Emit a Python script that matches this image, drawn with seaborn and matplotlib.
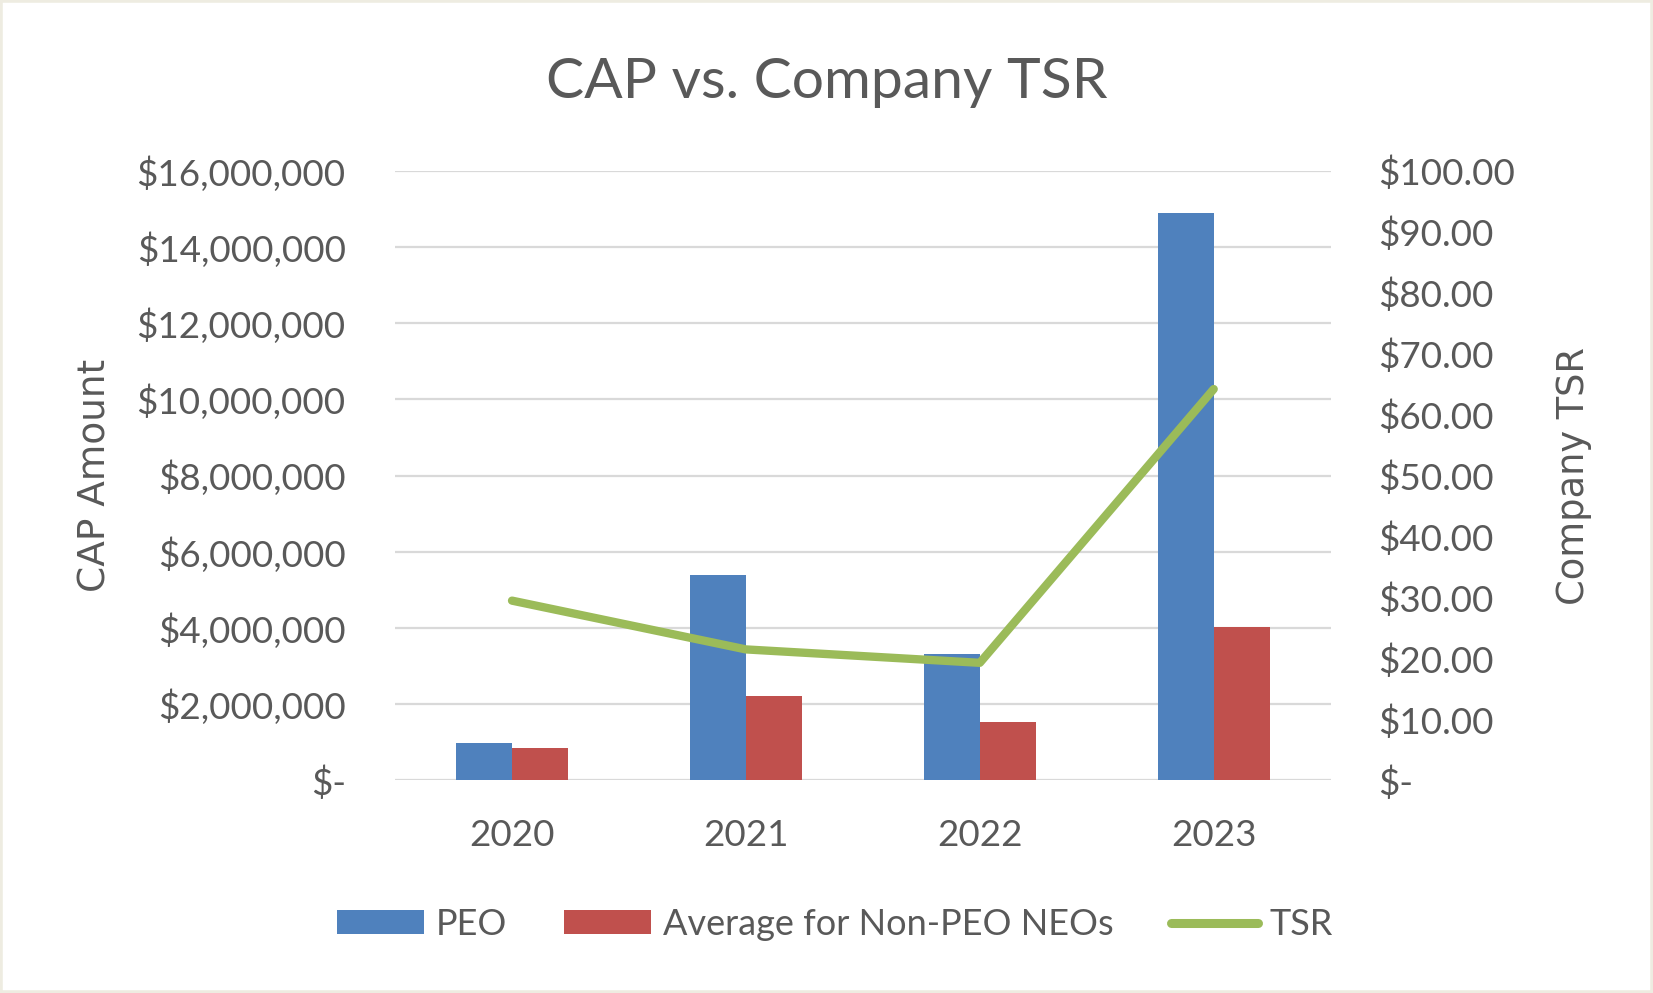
import matplotlib
matplotlib.use("Agg")
import matplotlib.pyplot as plt
import matplotlib.ticker as mticker
from matplotlib.patches import Patch, Rectangle
from matplotlib.lines import Line2D
import seaborn as sns
import pandas as pd
import numpy as np

years = ["2020", "2021", "2022", "2023"]
peo = [975000, 5390000, 3330000, 14890000]
non_peo = [840000, 2210000, 1530000, 4040000]
tsr = [29.5, 21.5, 19.3, 64.2]
series_names = ["PEO", "Average for Non-PEO NEOs", "TSR"]
left_ticks = [0, 2e6, 4e6, 6e6, 8e6, 10e6, 12e6, 14e6, 16e6]
right_ticks = [0, 10, 20, 30, 40, 50, 60, 70, 80, 90, 100]

BLUE = "#4F81BD"
RED = "#C0504D"
GREEN = "#9BBB59"
TXT = "#595959"
GRID = "#D9D9D9"

sns.set_theme(style="white")
plt.rcParams["font.family"] = ["Lato", "DejaVu Sans"]

bars = pd.DataFrame({
    "year": years * 2,
    "value": peo + non_peo,
    "series": [series_names[0]] * len(years) + [series_names[1]] * len(years),
})
line_df = pd.DataFrame({"pos": np.arange(len(years)), "tsr": tsr})

fig = plt.figure(figsize=(16.53, 9.93), dpi=100)
fig.patch.set_facecolor("white")
ax = fig.add_axes([0.239, 0.214, 0.566, 0.614])

sns.barplot(data=bars, x="year", y="value", hue="series",
            palette=[BLUE, RED], width=0.48, saturation=1, ax=ax, legend=False,
            linewidth=0, edgecolor="none")
ax.set_xlim(-0.5, len(years) - 0.5)
ax.set_ylim(0, 16e6)
ax.set_yticks(left_ticks)

def left_fmt(v, p):
    return "$-" if v == 0 else "${:,.0f}".format(v)

ax.yaxis.set_major_formatter(mticker.FuncFormatter(left_fmt))
ax.grid(axis="y", color=GRID, linewidth=1.6)
ax.set_axisbelow(True)
for s in ax.spines.values():
    s.set_visible(False)
ax.tick_params(axis="y", colors=TXT, labelsize=26.5, length=0, pad=35.5)
ax.tick_params(axis="x", colors=TXT, labelsize=26.5, length=0, pad=28)
ax.set_xlabel("")
ax.set_ylabel("CAP Amount", fontsize=27, color=TXT, family="DejaVu Sans", labelpad=17)

ax2 = ax.twinx()
sns.lineplot(data=line_df, x="pos", y="tsr", color=GREEN, linewidth=6,
             ax=ax2, solid_capstyle="round", solid_joinstyle="round")
ax2.set_xlim(-0.5, len(years) - 0.5)
ax2.set_ylim(0, 100)
ax2.set_yticks(right_ticks)

def right_fmt(v, p):
    return "$-" if v == 0 else "${:,.2f}".format(v)

ax2.yaxis.set_major_formatter(mticker.FuncFormatter(right_fmt))
for s in ax2.spines.values():
    s.set_visible(False)
ax2.tick_params(axis="y", colors=TXT, labelsize=26.5, length=0, pad=34)
ax2.set_ylabel("Company TSR", fontsize=26.5, color=TXT, family="DejaVu Sans", labelpad=29)
ax2.grid(False)

fig.text(0.5, 0.917, "CAP vs. Company TSR", ha="center", va="center",
         fontsize=41, color=TXT)

handles = [Patch(facecolor=BLUE, edgecolor="none"),
           Patch(facecolor=RED, edgecolor="none"),
           Line2D([0], [0], color=GREEN, linewidth=6.5, solid_capstyle="round")]
fig.legend(handles, series_names, loc="center", bbox_to_anchor=(0.505, 0.069),
           ncol=3, frameon=False, fontsize=26, labelcolor=TXT,
           handlelength=2.4, handleheight=0.65, handletextpad=0.32, columnspacing=1.6)

fig.patches.append(Rectangle((0, 0), 1, 1, transform=fig.transFigure,
                             fill=False, edgecolor="#EEECE1", linewidth=4))

fig.savefig("out.png", dpi=100, facecolor="white")
